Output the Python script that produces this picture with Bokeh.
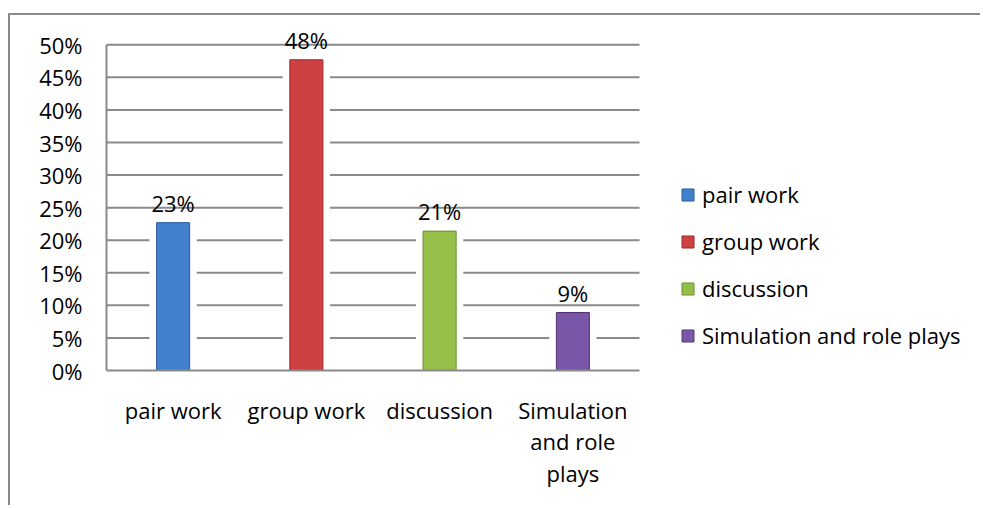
from bokeh.plotting import figure
from bokeh.models import (ColumnDataSource, NumeralTickFormatter, Legend, LegendItem,
                          FixedTicker, LabelSet)
from bokeh.core.properties import value
from bokeh.embed import file_html
from bokeh.resources import INLINE

# ---- data ----
categories = ["pair work", "group work", "discussion", "Simulation and role plays"]
axis_labels = ["pair work", "group work", "discussion", "Simulation\nand role\nplays"]
values = [0.227, 0.477, 0.214, 0.089]
value_labels = ["23%", "48%", "21%", "9%"]
y_ticks = [0.0, 0.05, 0.10, 0.15, 0.20, 0.25, 0.30, 0.35, 0.40, 0.45, 0.50]
colors = ["#4080cc", "#cf4042", "#96bf4a", "#7a56a8"]
edge_colors = ["#2c5d9a", "#98292b", "#6a8c2e", "#4f3475"]

FONT = "Open Sans"
GRID = "#8a8a8a"

positions = list(range(len(categories)))
x_lo, x_hi = -0.5, len(categories) - 0.5          # extent of the plot area (categories)
y_top = y_ticks[-1]

src = ColumnDataSource(dict(x=positions, cat=categories, val=values, lab=value_labels,
                            color=colors, edge=edge_colors))
grid_src = ColumnDataSource(dict(y=y_ticks[1:], x0=[x_lo] * (len(y_ticks) - 1),
                                 x1=[x_hi] * (len(y_ticks) - 1)))

# the frame extends to the right over the legend area; axis/grid are bounded to the plot area
p = figure(x_range=(x_lo, 6.074), y_range=(0, 0.525),
           width=972, height=492,
           min_border_left=96, min_border_right=0, min_border_top=13, min_border_bottom=137,
           output_backend="svg", toolbar_location=None, tools="")
p.outline_line_color = None
p.background_fill_color = "white"
p.border_fill_color = "white"
# outer chart border: only top and left edges are visible in the reference
p.styles = {"border-top": "2px solid #8a8a8a", "border-left": "2px solid #8a8a8a",
            "margin-top": "13px", "margin-left": "8px"}

# horizontal gridlines limited to the plot area
p.segment(x0="x0", x1="x1", y0="y", y1="y", source=grid_src, line_color=GRID, line_width=2)

# white glow behind bars (interrupts gridlines)
p.vbar(x="x", top="val", width=0.355, source=src, fill_color="white", line_color=None)
bars = p.vbar(x="x", top="val", width=0.248, source=src,
              fill_color="color", line_color="edge", line_width=1)

p.add_layout(LabelSet(x="x", y="val", text="lab", source=src, text_align="center",
                      text_baseline="bottom", y_offset=5, text_font=value(FONT),
                      text_font_size="22px", text_color="black"))

# axes
p.yaxis.ticker = FixedTicker(ticks=y_ticks)
p.yaxis.formatter = NumeralTickFormatter(format="0%")
p.yaxis.bounds = (0, y_top)
p.xaxis.ticker = FixedTicker(ticks=positions)
p.xaxis.major_label_overrides = {i: lab for i, lab in zip(positions, axis_labels)}
p.xaxis.bounds = (x_lo, x_hi)
for ax in (p.xaxis[0], p.yaxis[0]):
    ax.major_label_text_font = FONT
    ax.major_label_text_font_size = "22px"
    ax.major_label_text_color = "black"
    ax.axis_line_color = GRID
    ax.axis_line_width = 2
    ax.major_tick_line_color = None
    ax.minor_tick_line_color = None
    ax.major_tick_out = 0
    ax.major_tick_in = 0
    ax.minor_tick_out = 0
    ax.minor_tick_in = 0
p.yaxis.major_label_standoff = 24
p.xaxis.major_label_standoff = 24
p.xaxis.major_label_text_line_height = 1.06

p.xgrid.grid_line_color = None
p.ygrid.grid_line_color = None

# legend
items = [LegendItem(label=c, renderers=[bars], index=i) for i, c in enumerate(categories)]
legend = Legend(items=items, location=(574, 20), orientation="vertical",
                glyph_width=15, glyph_height=15, label_standoff=7, spacing=17,
                label_text_font=FONT, label_text_font_size="22px", label_text_color="black",
                padding=0, margin=0, border_line_color=None, background_fill_alpha=0)
p.add_layout(legend, "center")

open("out.html", "w").write(file_html(p, INLINE))
